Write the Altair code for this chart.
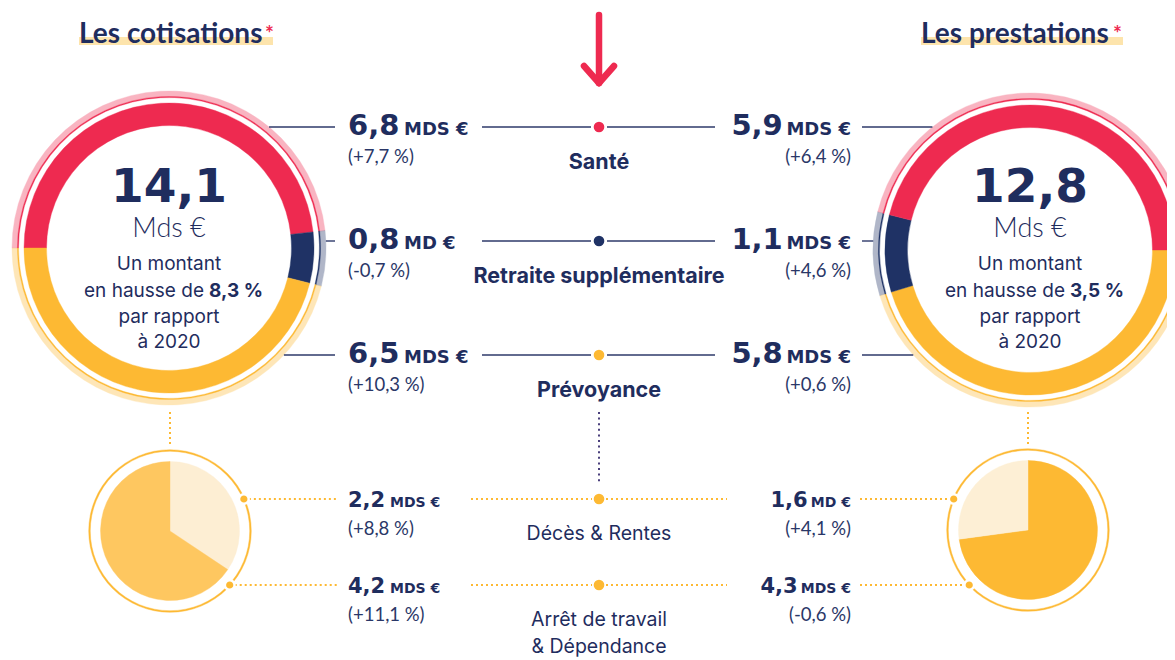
import math
import altair as alt
import pandas as pd

# ---------------- data ----------------
categories = ["Santé", "Retraite supplémentaire", "Prévoyance"]
cotisations = [6.8, 0.8, 6.5]
cotisations_units = ["MDS €", "MD €", "MDS €"]
cotisations_evol = ["(+7,7 %)", "(-0,7 %)", "(+10,3 %)"]
prestations = [5.9, 1.1, 5.8]
prestations_units = ["MDS €", "MDS €", "MDS €"]
prestations_evol = ["(+6,4 %)", "(+4,6 %)", "(+0,6 %)"]

prev_categories = ["Décès & Rentes", "Arrêt de travail\n& Dépendance"]
prev_cotisations = [2.2, 4.2]
prev_cotisations_units = ["MDS €", "MDS €"]
prev_cotisations_evol = ["(+8,8 %)", "(+11,1 %)"]
prev_prestations = [1.6, 4.3]
prev_prestations_units = ["MD €", "MDS €"]
prev_prestations_evol = ["(+4,1 %)", "(-0,6 %)"]

titles = ["Les cotisations", "Les prestations"]
total_growth = ["8,3 %", "3,5 %"]

# ---------------- styles ----------------
NAVY = "#1f2d5e"
NAVY_LINE = "#2e3a6a"
RED = "#ee2a50"
YELLOW = "#fdb933"
cat_colors = [RED, "#1f3265", YELLOW]
prev_colors_left = ["#fdeed3", "#fec760"]
prev_colors_right = ["#fdefd5", YELLOW]
HILITE = "#fde4ac"
FONT_H = "Lato"
FONT_NUM = "DejaVu Sans"
FONT_B = "Inter"

# ---------------- layout ----------------
W, H = 1159, 652
xs = alt.Scale(domain=[8, 8 + W], nice=False, zero=False)
ys = alt.Scale(domain=[8, 8 + H], nice=False, zero=False, reverse=True)

LEFT_DONUT = (169, 248)
RIGHT_DONUT = (1030, 250)
RING_R = 157
LEFT_PIE = (170, 531)
RIGHT_PIE = (1028, 530)
PIE_R = 80.5
ROW_Y = [127, 241, 355]
SUB_ROW_Y = [499, 585]
MID_X = 599
LX = 348
RX = 851


def fmt(v):
    return f"{v:.1f}".replace(".", ",")


def X(f):
    return alt.X(f"{f}:Q", scale=xs, axis=None)


def Y(f):
    return alt.Y(f"{f}:Q", scale=ys, axis=None)


def unit_width(u, size):
    # approximate advance widths of DejaVu Sans Bold (em units)
    w = {"M": 0.863, "D": 0.830, "S": 0.720, " ": 0.348, "€": 0.696}
    return size * sum(w.get(c, 0.7) for c in u)


layers = []


def txt(rows, **style):
    df = pd.DataFrame(rows, columns=["x", "y", "t"])
    base = dict(baseline="alphabetic", color=NAVY, font=FONT_B)
    base.update(style)
    layers.append(
        alt.Chart(df).mark_text(**base).encode(x=X("x"), y=Y("y"), text="t:N")
    )


def rules(rows, **style):
    df = pd.DataFrame(rows, columns=["x", "y", "x1", "y1"])
    layers.append(
        alt.Chart(df).mark_rule(**style).encode(
            x=X("x"), y=Y("y"), x2=alt.X2("x1"), y2=alt.Y2("y1")
        )
    )


def ring_df(values, colors, order, center):
    vals = [values[i] for i in order]
    cols = [colors[i] for i in order]
    cum = [0.0]
    for v in vals:
        cum.append(cum[-1] + v)
    return pd.DataFrame(
        {
            "cx": [center[0]] * len(vals),
            "cy": [center[1]] * len(vals),
            "t0": cum[:-1],
            "t1": cum[1:],
            "c": cols,
        }
    ), cum[-1]


def arcs(df, total, start, inner, outer, opacity=1.0):
    layers.append(
        alt.Chart(df)
        .mark_arc(innerRadius=inner, outerRadius=outer, opacity=opacity)
        .encode(
            x=X("cx"),
            y=Y("cy"),
            theta=alt.Theta(
                "t0:Q",
                scale=alt.Scale(domain=[0, total], range=[start, start + 2 * math.pi]),
                stack=False,
            ),
            theta2=alt.Theta2("t1"),
            color=alt.Color("c:N", scale=None),
            stroke=alt.Color("c:N", scale=None),
            strokeWidth=alt.value(0.4),
        )
    )


# ---------------- titles ----------------
rules([(79, 41, 273, 41), (921, 41, 1123, 41)], color=HILITE, strokeWidth=8)
txt([(79, 43, titles[0]), (921, 43, titles[1])], font=FONT_H, fontSize=28,
    fontWeight="bold", align="left")
txt([(265, 24, "*"), (1113, 24, "*")], font=FONT_H, fontSize=21,
    fontWeight="bold", color=RED, align="left", baseline="top")

# ---------------- arrow ----------------
rules([(MID_X, 15, MID_X, 83), (584, 66, MID_X, 83), (614, 66, MID_X, 83)],
      color=RED, strokeWidth=6.5, strokeCap="round")

# ---------------- donuts ----------------
for values, order, center, start in [
    (cotisations, [0, 1, 2], LEFT_DONUT, -math.pi / 2),
    (prestations, [2, 1, 0], RIGHT_DONUT, math.pi / 2),
]:
    df, total = ring_df(values, cat_colors, order, center)
    arcs(df, total, start, 151.5, RING_R, opacity=0.35)
    arcs(df, total, start, 150.5, 151.6)
    arcs(df, total, start, 122.5, 145)

# ---------------- pies ----------------
for values, colors, order, center in [
    (prev_cotisations, prev_colors_left, [0, 1], LEFT_PIE),
    (prev_prestations, prev_colors_right, [1, 0], RIGHT_PIE),
]:
    df, total = ring_df(values, colors, order, center)
    arcs(df, total, 0, 0, 69.5)
    ring = pd.DataFrame({"cx": [center[0]], "cy": [center[1]], "t0": [0.0],
                         "t1": [1.0], "c": [YELLOW]})
    arcs(ring, 1.0, 0, PIE_R - 0.8, PIE_R + 0.8)

# ---------------- connector lines ----------------
solid = []
for y in ROW_Y:
    lx = LEFT_DONUT[0] + math.sqrt(max(RING_R ** 2 - (y - LEFT_DONUT[1]) ** 2, 0))
    rx = RIGHT_DONUT[0] - math.sqrt(max(RING_R ** 2 - (y - RIGHT_DONUT[1]) ** 2, 0))
    solid += [(lx, y, 335, y), (482, y, MID_X - 8, y), (MID_X + 8, y, 715, y),
              (862, y, rx, y)]
rules(solid, color=NAVY_LINE, strokeWidth=1.4)

dotted = []
pie_dots = []
for y in SUB_ROW_Y:
    lx = LEFT_PIE[0] + math.sqrt(PIE_R ** 2 - (y - LEFT_PIE[1]) ** 2)
    rx = RIGHT_PIE[0] - math.sqrt(PIE_R ** 2 - (y - RIGHT_PIE[1]) ** 2)
    pie_dots += [(lx, y), (rx, y)]
    dotted += [(lx, y, 338, y), (471, y, MID_X - 7, y), (MID_X + 7, y, 727, y),
               (860, y, rx, y)]
dotted += [(LEFT_DONUT[0] + 1, 412, LEFT_DONUT[0] + 1, 444),
           (RIGHT_PIE[0], 412, RIGHT_PIE[0], 444)]
rules(dotted, color=YELLOW, strokeWidth=2, strokeDash=[2, 3])
rules([(MID_X, 412, MID_X, 484)], color="#4a3f7c", strokeWidth=2,
      strokeDash=[2, 3.6])

# ---------------- dots ----------------
dots = pd.DataFrame(
    {
        "x": [MID_X] * 5,
        "y": ROW_Y + SUB_ROW_Y,
        "c": cat_colors + [YELLOW, YELLOW],
    }
)
layers.append(
    alt.Chart(dots).mark_point(filled=True, size=math.pi * 36, opacity=1)
    .encode(x=X("x"), y=Y("y"), color=alt.Color("c:N", scale=None))
)
pd_df = pd.DataFrame(pie_dots, columns=["x", "y"])
layers.append(
    alt.Chart(pd_df).mark_point(filled=True, size=math.pi * 30, opacity=1,
                                color=YELLOW, stroke="white", strokeWidth=2.5)
    .encode(x=X("x"), y=Y("y"))
)

# ---------------- donut centre texts ----------------
for (cx, _), values, growth in [(LEFT_DONUT, cotisations, total_growth[0]),
                                (RIGHT_DONUT, prestations, total_growth[1])]:
    total_txt = fmt(round(sum(values), 1))
    txt([(cx, 202, total_txt)], font=FONT_NUM, fontSize=47, fontWeight="bold",
        align="center")
    txt([(cx, 237, "Mds €")], font=FONT_H, fontSize=27, fontWeight=300,
        align="center")
    txt([(cx, 270, "Un montant"), (cx, 323, "par rapport"), (cx, 348, "à 2020")],
        fontSize=19, align="center")
    txt([(cx + 35, 297, "en hausse de")], fontSize=19, align="right")
    txt([(cx + 40, 297, growth)], fontSize=19, fontWeight="bold", align="left")

# ---------------- value labels ----------------
big_num, big_unit, small_num, small_unit = 29, 18, 21, 14
lnum, lunit, lev, rnum, runit, rev = [], [], [], [], [], []
for i, y in enumerate(ROW_Y):
    lnum.append((LX, y + 8, fmt(cotisations[i])))
    lunit.append((404, y + 8, cotisations_units[i]))
    lev.append((LX, y + 36, cotisations_evol[i]))
    rnum.append((RX - unit_width(prestations_units[i], big_unit) - 6, y + 8,
                 fmt(prestations[i])))
    runit.append((RX, y + 8, prestations_units[i]))
    rev.append((RX, y + 36, prestations_evol[i]))
txt(lnum, font=FONT_NUM, fontSize=big_num, fontWeight="bold", align="left")
txt(lunit, font=FONT_NUM, fontSize=big_unit, fontWeight="bold", align="left")
txt(rnum, font=FONT_NUM, fontSize=big_num, fontWeight="bold", align="right")
txt(runit, font=FONT_NUM, fontSize=big_unit, fontWeight="bold", align="right")

snum_l, sunit_l, snum_r, sunit_r = [], [], [], []
for i, y in enumerate(SUB_ROW_Y):
    snum_l.append((LX, y + 8, fmt(prev_cotisations[i])))
    sunit_l.append((390, y + 8, prev_cotisations_units[i]))
    lev.append((LX, y + 36, prev_cotisations_evol[i]))
    snum_r.append((RX - unit_width(prev_prestations_units[i], small_unit) - 5,
                   y + 8, fmt(prev_prestations[i])))
    sunit_r.append((RX, y + 8, prev_prestations_units[i]))
    rev.append((RX, y + 36, prev_prestations_evol[i]))
txt(snum_l, font=FONT_NUM, fontSize=small_num, fontWeight="bold", align="left")
txt(sunit_l, font=FONT_NUM, fontSize=small_unit, fontWeight="bold", align="left")
txt(snum_r, font=FONT_NUM, fontSize=small_num, fontWeight="bold", align="right")
txt(sunit_r, font=FONT_NUM, fontSize=small_unit, fontWeight="bold", align="right")
txt(lev, font=FONT_H, fontSize=18.5, align="left", color="#2a3767")
txt(rev, font=FONT_H, fontSize=18.5, align="right", color="#2a3767")

# ---------------- category labels ----------------
txt([(MID_X, y + 42, c) for y, c in zip(ROW_Y, categories)],
    fontSize=21.5, fontWeight="bold", align="center")
txt([(MID_X, y + 41, c) for y, c in zip(SUB_ROW_Y, prev_categories)],
    fontSize=19.5, align="center", lineBreak="\n", lineHeight=27)

chart = (
    alt.layer(*layers)
    .resolve_scale(theta="independent")
    .properties(width=W, height=H, padding=0,
                autosize=alt.AutoSizeParams(type="none"), background="white")
    .configure_view(stroke=None)
)

chart.save("out.html", embed_options={"renderer": "svg", "actions": False})
